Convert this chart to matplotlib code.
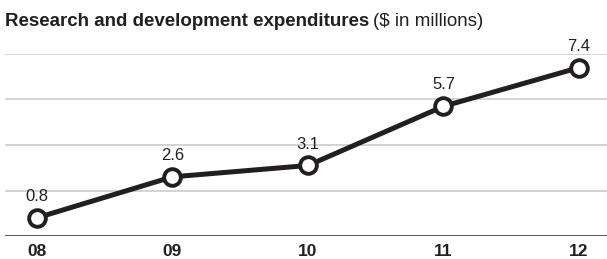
import matplotlib
matplotlib.use("Agg")
import matplotlib.pyplot as plt
from matplotlib import font_manager

years = ["08", "09", "10", "11", "12"]
values = [0.8, 2.6, 3.1, 5.7, 7.4]
value_labels = ["0.8", "2.6", "3.1", "5.7", "7.4"]
grid_levels = [2, 4, 6, 8]

names = {f.name for f in font_manager.fontManager.ttflist}
fam = "Liberation Sans Narrow" if "Liberation Sans Narrow" in names else "Liberation Sans"
plt.rcParams['font.family'] = [fam, 'DejaVu Sans']

fig = plt.figure(figsize=(6.07, 2.59), dpi=100)
ax = fig.add_axes([5/607, 1-236/259, 602/607, (236-54)/259])
ax.set_ylim(0, 8)
ax.set_xlim(-0.236, 4.207)
x = list(range(len(years)))

for g in grid_levels:
    ax.axhline(g, color="#d0d0d0", lw=1.3, zorder=1)
ax.axhline(0, color="#231f20", lw=1.8, zorder=2)

ax.plot(x, values, color="#231f20", lw=3.6, marker="o", markersize=12,
        markerfacecolor="white", markeredgecolor="#231f20", markeredgewidth=2.8,
        zorder=3, clip_on=False)
for xi, v, lab in zip(x, values, value_labels):
    ax.annotate(lab, (xi, v), xytext=(0, 10), textcoords="offset points",
                ha="center", va="bottom", fontsize=12, color="#231f20")

for s in ax.spines.values():
    s.set_visible(False)
ax.set_yticks([])
ax.set_xticks(x)
ax.set_xticklabels(years, fontsize=12.5, fontweight="bold", color="#231f20")
ax.tick_params(axis="x", length=0, pad=6)

fig.text(5/607, 1-22/259, "Research and development expenditures", fontsize=13.5,
         fontweight="bold", color="#231f20", va="center", ha="left")
t = fig.texts[-1]
fig.canvas.draw()
bb = t.get_window_extent()
fig.text((bb.x1 + 4)/607, 1-22/259, "($ in millions)", fontsize=13.5,
         color="#231f20", va="center", ha="left")

fig.savefig("out.png", dpi=100)
